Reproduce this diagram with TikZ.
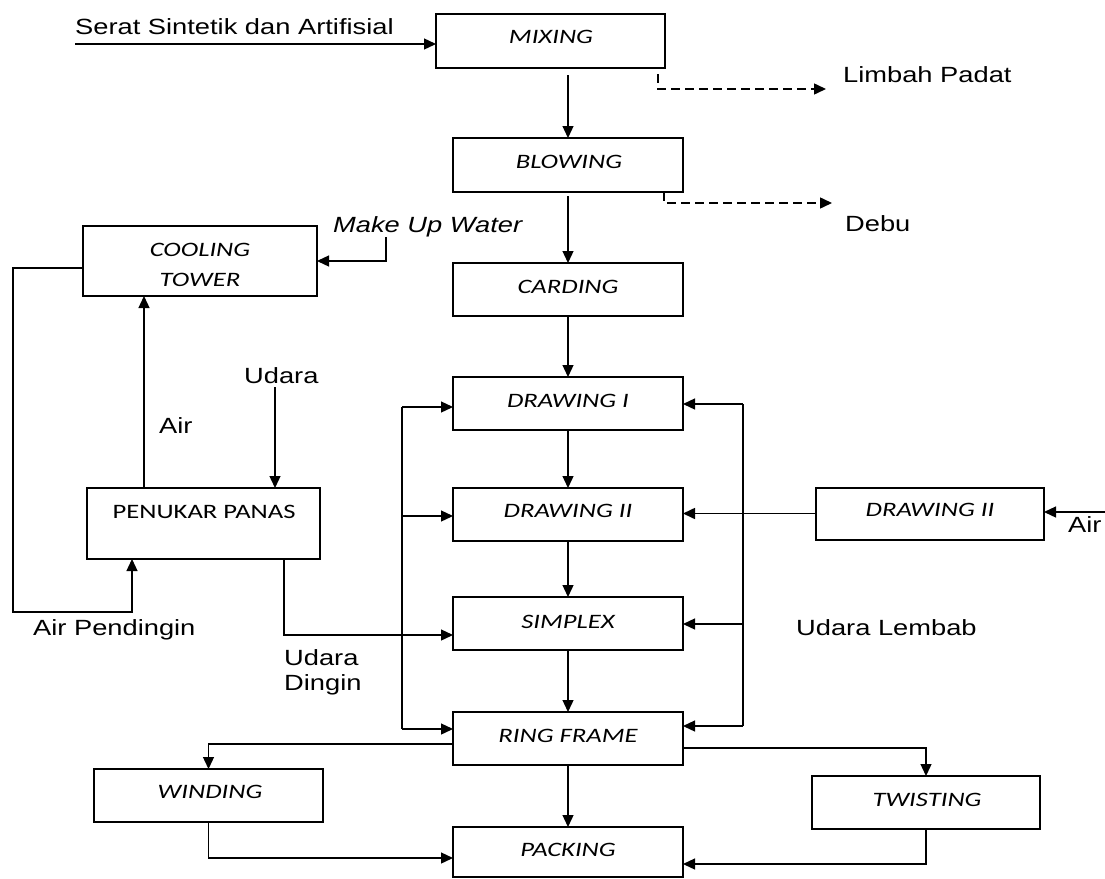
\documentclass[tikz,border=0pt]{standalone}
\usepackage{fontspec}
\usetikzlibrary{arrows.meta}
\newfontfamily\lab[FakeStretch=1.24]{Liberation Sans}
\newfontfamily\btx[FakeStretch=1.3]{Carlito}
\begin{document}
\begin{tikzpicture}[x=1pt,y=-1pt,
  box/.style={draw, line width=2pt, inner sep=0pt, outer sep=0pt},
  btxt/.style={font=\btx\itshape\fontsize{20.5}{24}\selectfont, inner sep=0pt, anchor=base},
  butxt/.style={font=\btx\fontsize{20.5}{24}\selectfont, inner sep=0pt, anchor=base},
  ltxt/.style={font=\lab\fontsize{22}{26}\selectfont, inner sep=0pt, anchor=base west},
  arr/.style={-{Triangle[length=12pt,width=11pt]}, line width=1.3pt},
  plain/.style={line width=1.3pt},
  dsh/.style={arr, line width=1.5pt, dash pattern=on 9pt off 5pt}]
\useasboundingbox (0,0) rectangle (1105,878);
\fill[white] (0,0) rectangle (1105,878);

% boxes
\node[box, minimum width=229pt, minimum height=54pt] (mix) at (550.5,41) {};
\node[box, minimum width=230pt, minimum height=54pt] (blow) at (568,165) {};
\node[box, minimum width=230pt, minimum height=53pt] (card) at (568,289.5) {};
\node[box, minimum width=230pt, minimum height=53pt] (dr1) at (568,403.5) {};
\node[box, minimum width=230pt, minimum height=53pt] (dr2) at (568,514.5) {};
\node[box, minimum width=230pt, minimum height=53pt] (simp) at (568,623.5) {};
\node[box, minimum width=230pt, minimum height=53pt] (ring) at (568,738.5) {};
\node[box, minimum width=230pt, minimum height=50pt] (pack) at (568,852) {};
\node[box, minimum width=229pt, minimum height=53pt] (wind) at (208.5,795.5) {};
\node[box, minimum width=228pt, minimum height=53pt] (twist) at (926,802.5) {};
\node[box, minimum width=228pt, minimum height=52pt] (dr2r) at (930,513.5) {};
\node[box, minimum width=234pt, minimum height=70pt] (cool) at (200,261) {};
\node[box, minimum width=233pt, minimum height=71pt] (pen) at (203.5,523.5) {};

% box texts
\node[btxt] (mixT) at (551,43) {MIXING};
\node[btxt] (blowT) at (569,168) {BLOWING};
\node[btxt] (cardT) at (568,293) {CARDING};
\node[btxt] (dr1T) at (568,407) {DRAWING I};
\node[btxt] (dr2T) at (568,517) {DRAWING II};
\node[btxt] (simpT) at (568,628) {SIMPLEX};
\node[btxt] (ringT) at (568,742) {RING FRAME};
\node[btxt] (packT) at (568,856) {PACKING};
\node[btxt] (windT) at (210,798) {WINDING};
\node[btxt] (twistT) at (927,806) {TWISTING};
\node[btxt] (dr2rT) at (930,516) {DRAWING II};
\node[btxt] (coolT1) at (200,256) {COOLING};
\node[btxt] (coolT2) at (200,286) {TOWER};
\node[butxt] (penT) at (204,518) {PENUKAR PANAS};

% labels
\node[ltxt] (lSerat) at (75,34) {Serat Sintetik dan Artifisial};
\node[ltxt] (lLimbah) at (843,82) {Limbah Padat};
\node[ltxt] (lDebu) at (845,231) {Debu};
\node[ltxt, font=\lab\itshape\fontsize{22}{26}\selectfont] (lMake) at (333,232) {Make Up Water};
\node[ltxt] (lAir) at (159,433) {Air};
\node[ltxt] (lUdara) at (244,383) {Udara};
\node[ltxt] (lAirP) at (33,635) {Air Pendingin};
\node[ltxt] (lUd1) at (284,665) {Udara};
\node[ltxt] (lUd2) at (284,690) {Dingin};
\node[ltxt] (lUL) at (796,635) {Udara Lembab};
\node[ltxt] (lAirR) at (1068,532) {Air};

% main flow
\coordinate (s0) at (75,44);
\draw[arr] (s0) -- (s0 -| mix.west);
\draw[arr] ([yshift=-7pt]mix.south -| blow.north) -- (blow.north);
\draw[arr] ([yshift=-4pt]blow.south) -- (card.north);
\draw[arr] (card.south) -- (dr1.north);
\draw[arr] (dr1.south) -- (dr2.north);
\draw[arr] (dr2.south) -- (simp.north);
\draw[arr] (simp.south) -- (ring.north);
\draw[arr] (ring.south) -- (pack.north);
\draw[arr] ([yshift=-5.5pt]ring.west) -| (wind.north);
\draw[arr] ([yshift=-9.5pt]ring.east) -| (twist.north);
\draw[arr] (wind.south) |- ([yshift=-6pt]pack.west);
\draw[arr] (twist.south) |- ([yshift=-12pt]pack.east);

% waste
\coordinate (d1s) at (658,74);
\coordinate (d1e) at (826,89);
\draw[dsh] (d1s) |- (d1e);
\coordinate (d2s) at (664,192);
\coordinate (d2e) at (832,203);
\draw[dsh] (d2s) |- (d2e);

% cooling circuit
\coordinate (mu) at (386,237);
\draw[arr] (mu) |- (cool.east);
\coordinate (lp) at (13,612);
\draw[arr] ([yshift=-7pt]cool.west) -| (lp) -| ([xshift=-71.5pt]pen.south);
\draw[arr] ([xshift=-59.5pt]pen.north) -- ([xshift=-56pt]cool.south);
\coordinate (ud) at (275,387);
\draw[arr] (ud) -- (ud |- pen.north);
\draw[arr] ([xshift=80.5pt]pen.south) |- ([yshift=-11.5pt]simp.west);

% left bus
\coordinate (lb1) at (402,407);
\coordinate (lb2) at (402,516);
\coordinate (lb3) at (402,729);
\draw[plain] (lb1) -- (lb3);
\draw[arr] (lb1) -- (lb1 -| dr1.west);
\draw[arr] (lb2) -- (lb2 -| dr2.west);
\draw[arr] (lb3) -- (lb3 -| ring.west);

% right bus
\coordinate (rb1) at (743,404);
\coordinate (rb3) at (743,624);
\coordinate (rb4) at (743,726);
\draw[plain] (rb1) -- (rb4);
\draw[arr] (rb1) -- (rb1 -| dr1.east);
\draw[arr, line width=1.6pt] (dr2r.west) -- (dr2r.west -| dr2.east);
\draw[arr] (rb3) -- (rb3 -| simp.east);
\draw[arr] (rb4) -- (rb4 -| ring.east);
\coordinate (ar) at (1105,512);
\draw[arr] (ar) -- (ar -| dr2r.east);
\end{tikzpicture}
\end{document}
